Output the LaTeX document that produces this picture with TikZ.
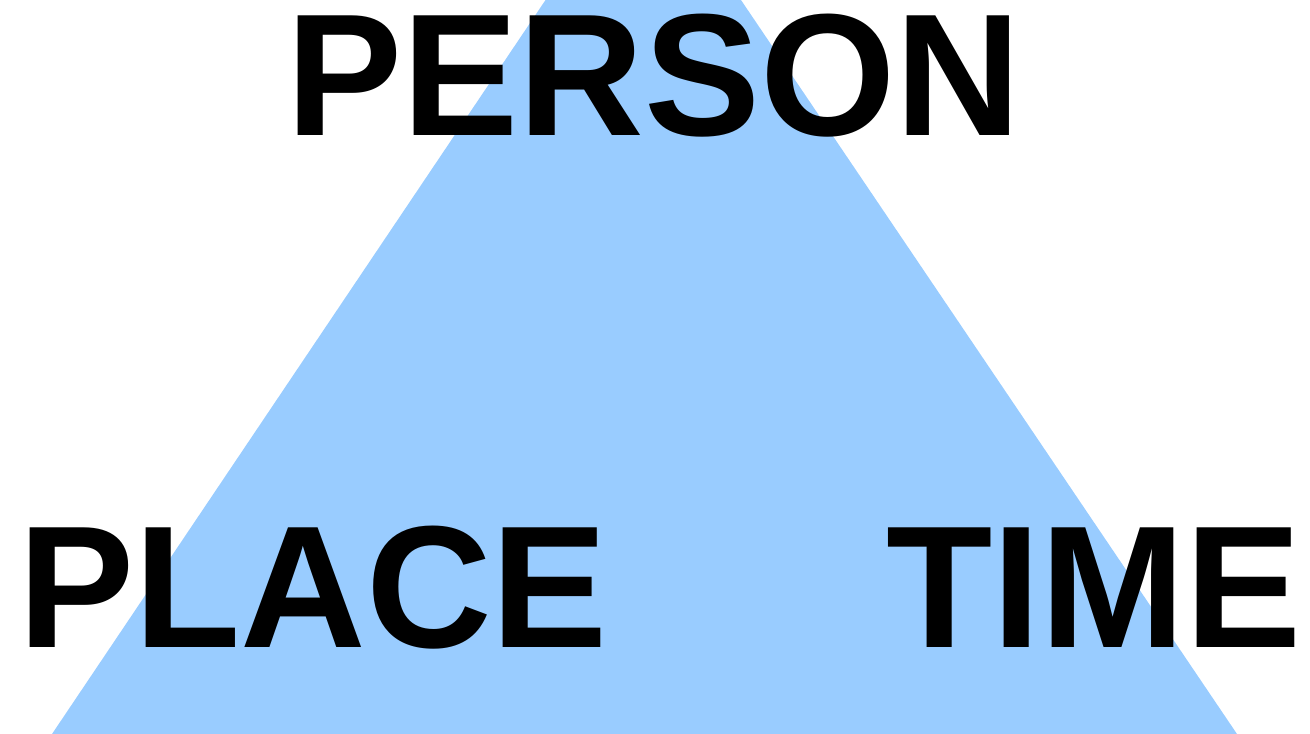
\documentclass[tikz,border=0pt]{standalone}
\usepackage{fontspec}
\setmainfont{Liberation Sans}
\definecolor{skyblue}{HTML}{99CCFF}

\begin{document}
\begin{tikzpicture}[
      x=1pt, y=-1pt, % pixel-like units, y downwards
      corner/.style={anchor=base, inner sep=0pt, font=\fontsize{174}{174}\selectfont\bfseries}, % Style for the three labels
    ]

    % Rahmen
    \useasboundingbox (0,0) rectangle (1310,734);
    \clip (0,0) rectangle (1310,734);

    % Dreieck (Spitze liegt oberhalb des Bildes)
    \fill[skyblue] (52,734) -- (643,-145) -- (1237,734) -- cycle;

    % Beschriftungen
    \node[corner] (person) at (654,135) {PERSON};
    \node[corner] (place) at (313,647) {PLACE};
    \node[corner] (time) at (1094,647) {TIME};

  \end{tikzpicture}
\end{document}
